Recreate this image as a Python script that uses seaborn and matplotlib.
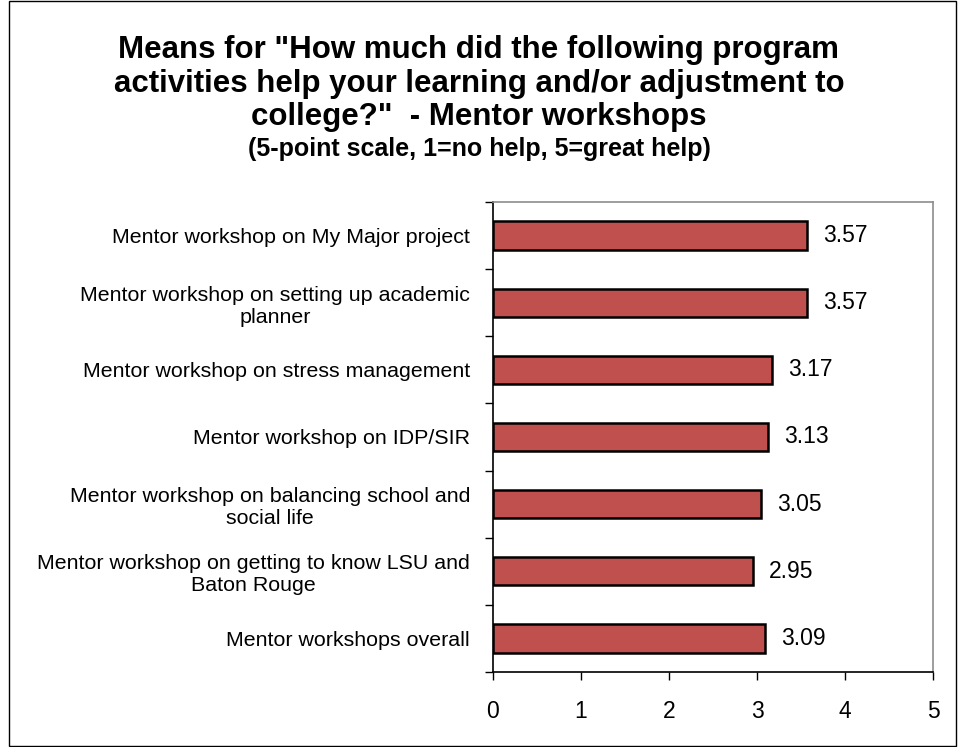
import matplotlib
matplotlib.use("Agg")
import matplotlib.pyplot as plt
import seaborn as sns
import pandas as pd
from matplotlib.patches import Rectangle

CATEGORIES = [
    "Mentor workshop on My Major project",
    "Mentor workshop on setting up academic\nplanner",
    "Mentor workshop on stress management",
    "Mentor workshop on IDP/SIR",
    "Mentor workshop on balancing school and\nsocial life",
    "Mentor workshop on getting to know LSU and\nBaton Rouge",
    "Mentor workshops overall",
]
MEANS = [3.57, 3.57, 3.17, 3.13, 3.05, 2.95, 3.09]
X_TICKS = [0, 1, 2, 3, 4, 5]

TITLE = ('Means for "How much did the following program\n'
         'activities help your learning and/or adjustment to\n'
         'college?"  - Mentor workshops')
SUBTITLE = "(5-point scale, 1=no help, 5=great help)"

BAR_COLOR = "#C0504D"

sns.set_style("white")
plt.rcParams["font.family"] = ["Liberation Sans", "DejaVu Sans"]
plt.rcParams["text.color"] = "black"
plt.rcParams["xtick.color"] = "black"
plt.rcParams["ytick.color"] = "black"

df = pd.DataFrame({"item": CATEGORIES, "mean": MEANS})

fig = plt.figure(figsize=(9.58, 7.47), dpi=100)
ax = fig.add_axes([0.5146, 0.1004, 0.4593, 0.6292])

sns.barplot(data=df, y="item", x="mean", orient="h", color=BAR_COLOR,
            edgecolor="black", linewidth=1.8, width=0.42, saturation=1, ax=ax)

for bar, v in zip(ax.patches, MEANS):
    ax.text(v + 0.18, bar.get_y() + bar.get_height() / 2, f"{v:.2f}",
            va="center", ha="left", fontsize=16.5)

ax.set_xlim(0, 5)
ax.set_ylim(len(CATEGORIES) - 0.5, -0.5)
ax.set_xticks(X_TICKS)
ax.set_xticklabels([str(t) for t in X_TICKS], fontsize=16.5)
ax.set_xlabel("")
ax.set_ylabel("")

# category ticks sit between bars, labels stay centred on the bars
ax.set_yticks([i + 0.5 for i in range(-1, len(CATEGORIES))], minor=False)
ax.set_yticklabels([])
ax.set_yticks(range(len(CATEGORIES)), minor=True)
ax.set_yticklabels(CATEGORIES, minor=True, fontsize=15.4)
for lbl in ax.get_yticklabels(minor=True):
    lbl.set_multialignment("center")
ax.tick_params(axis="y", which="minor", length=0, pad=16.5)
ax.tick_params(axis="y", which="major", direction="out", length=6, width=1, color="black", left=True)
ax.tick_params(axis="x", direction="out", length=6, width=1, color="black", bottom=True, pad=14)

for side in ["left", "bottom"]:
    ax.spines[side].set_color("black")
    ax.spines[side].set_linewidth(1.2)
for side in ["top", "right"]:
    ax.spines[side].set_color("#8c8c8c")
    ax.spines[side].set_linewidth(1.2)

fig.text(0.5, 0.888, TITLE, ha="center", va="center", fontsize=22.5,
         fontweight="bold", linespacing=1.15)
fig.text(0.5, 0.8005, SUBTITLE, ha="center", va="center", fontsize=18,
         fontweight="bold")

fig.patches.append(Rectangle((0.009, 0.002), 0.989, 0.996, transform=fig.transFigure,
                             fill=False, edgecolor="black", linewidth=1))

fig.savefig("out.png", dpi=100)
